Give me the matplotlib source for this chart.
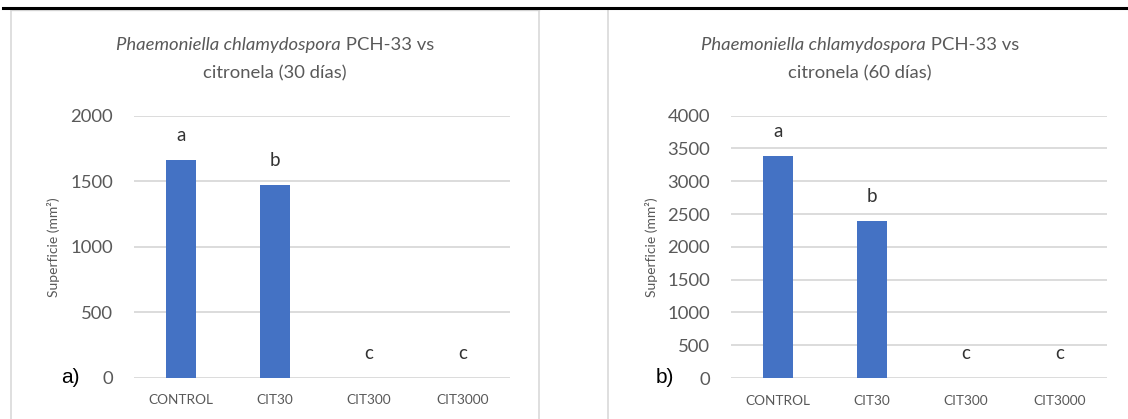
import matplotlib
matplotlib.use("Agg")
import matplotlib.pyplot as plt
from matplotlib.lines import Line2D

categories = ["CONTROL", "CIT30", "CIT300", "CIT3000"]
values_30 = [1660, 1470, 0, 0]
values_60 = [3390, 2400, 0, 0]
letters_30 = ["a", "b", "c", "c"]
letters_60 = ["a", "b", "c", "c"]
title_italic = "Phaemoniella chlamydospora"
title_rest_1 = " PCH-33 vs"
title_line2_30 = "citronela (30 días)"
title_line2_60 = "citronela (60 días)"
ylabel = "Superficie (mm²)"
panel_tags = ["a)", "b)"]

W, H = 1128, 419
DPI = 100
FONT = "Lato"
GRAY = "#595959"
GRID = "#d9d9d9"
BAR = "#4472C4"

plt.rcParams['font.family'] = [FONT, 'DejaVu Sans']
fig = plt.figure(figsize=(W / DPI, H / DPI), dpi=DPI)
fig.patch.set_facecolor("white")

def px_box(x0, x1, ytop, ybot):
    return [x0 / W, 1 - ybot / H, (x1 - x0) / W, (ybot - ytop) / H]

# panel borders
for x in (11, 539, 608):
    fig.add_artist(Line2D([x / W, x / W], [0, 1 - 9 / H], color=GRID, lw=1.2))
fig.add_artist(Line2D([11 / W, 539 / W], [1 - 10 / H, 1 - 10 / H], color=GRID, lw=1.0))
fig.add_artist(Line2D([3 / W, 1], [1 - 8 / H, 1 - 8 / H], color="black", lw=2.2))

def draw_title(cx, line2):
    renderer = fig.canvas.get_renderer()
    fs = 13.3
    t1 = fig.text(0, 0, title_italic, fontsize=fs, style="italic", color=GRAY)
    t2 = fig.text(0, 0, title_rest_1, fontsize=fs, color=GRAY)
    w1 = t1.get_window_extent(renderer).width
    w2 = t2.get_window_extent(renderer).width
    x0 = cx - (w1 + w2) / 2
    y1 = 1 - 45 / H
    t1.set_position((x0 / W, y1)); t1.set_va("center")
    t2.set_position(((x0 + w1) / W, y1)); t2.set_va("center")
    fig.text(cx / W, 1 - 73 / H, line2, fontsize=fs, color=GRAY, ha="center", va="center")

def panel(rect, values, letters, ymax, step, title_cx, line2, tag, tag_x, ylab_x):
    ax = fig.add_axes(rect)
    x = range(len(categories))
    ax.bar(x, values, width=0.31, color=BAR, zorder=3)
    ax.set_xlim(-0.5, len(categories) - 0.5)
    ax.set_ylim(0, ymax)
    ax.set_yticks(range(0, ymax + 1, step))
    ax.set_xticks(list(x))
    ax.set_xticklabels(categories)
    for s in ax.spines.values():
        s.set_visible(False)
    ax.grid(axis="y", color=GRID, lw=1.3, zorder=0)
    ax.set_axisbelow(True)
    ax.tick_params(axis="y", length=0, pad=15, labelsize=13.3, labelcolor=GRAY)
    ax.tick_params(axis="x", length=0, pad=12, labelsize=9.8, labelcolor=GRAY)
    for i, (v, l) in enumerate(zip(values, letters)):
        ax.annotate(l, (i, v), xytext=(0, 17.5), textcoords="offset points",
                    ha="center", va="center", fontsize=13.5, color="#333333")
    fig.text(ylab_x / W, 1 - 247 / H, ylabel, rotation=90, fontsize=10,
             color=GRAY, ha="center", va="center")
    fig.text(tag_x / W, 1 - 377 / H, tag, fontsize=15, color="black",
             ha="center", va="center", family="Liberation Sans")
    draw_title(title_cx, line2)
    return ax

panel(px_box(134, 510, 115.7, 377.7), values_30, letters_30, 2000, 500,
      275, title_line2_30, panel_tags[0], 70, 54)
panel(px_box(731, 1107, 115.7, 378), values_60, letters_60, 4000, 500,
      860, title_line2_60, panel_tags[1], 665, 652)

fig.savefig("out.png", dpi=DPI, facecolor="white")
